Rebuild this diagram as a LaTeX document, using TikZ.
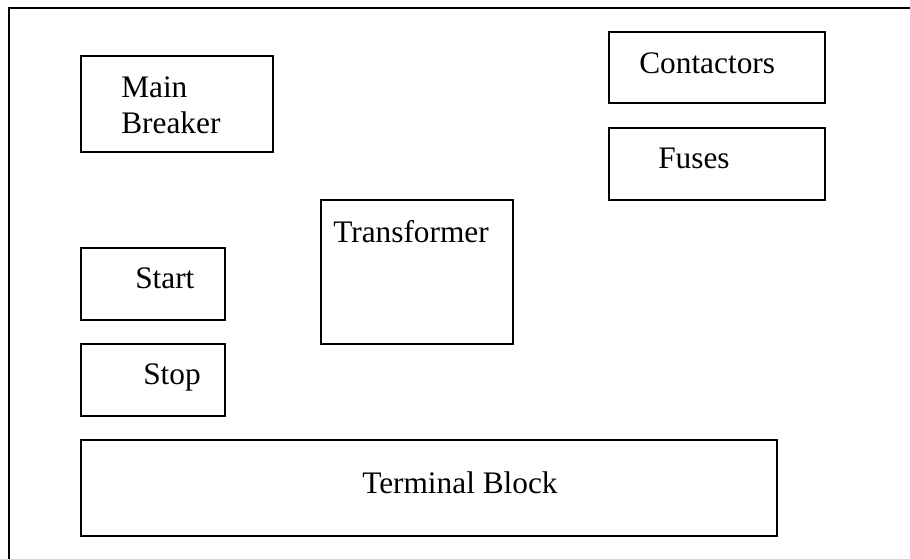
\documentclass[tikz,border=0pt]{standalone}
\usepackage{fontspec}
\setmainfont{Liberation Serif}
\usetikzlibrary{positioning}
\tikzset{
  frame/.style={line width=1.5pt},
  part/.style={line width=1.5pt},
  lbl/.style={font=\fontsize{23.5}{27}\selectfont,inner sep=0pt,anchor=base west},
}

\begin{document}
\begin{tikzpicture}[x=0.75pt,y=-0.75pt]
    \useasboundingbox (0,0) rectangle (910,558);
    \clip (0,0) rectangle (910,558);
    % ---------- panel outline (runs off the page right and bottom) ----------
    \draw[frame] (9,8) rectangle (1000,650);
    % ---------- left column ----------
    \draw[part] (81,56) rectangle (273,152);
    \node[lbl] (brk1) at (121,97) {Main};
    \node[lbl] (brk2) at (121,133) {Breaker};
    \draw[part] (81,248) rectangle (225,320);
    \node[lbl] (start) at (135,288) {Start};
    \draw[part] (81,344) rectangle (225,416);
    \node[lbl] (stop) at (143,384) {Stop};
    % ---------- centre ----------
    \draw[part] (321,200) rectangle (513,344);
    \node[lbl] (trafo) at (333,242) {Transformer};
    % ---------- right column ----------
    \draw[part] (609,32) rectangle (825,103);
    \node[lbl] (cont) at (639,73) {Contactors};
    \draw[part] (609,128) rectangle (825,200);
    \node[lbl] (fuse) at (658,168) {Fuses};
    % ---------- bottom ----------
    \draw[part] (81,440) rectangle (777,536);
    \node[lbl] (term) at (362,493) {Terminal Block};
  \end{tikzpicture}
\end{document}
